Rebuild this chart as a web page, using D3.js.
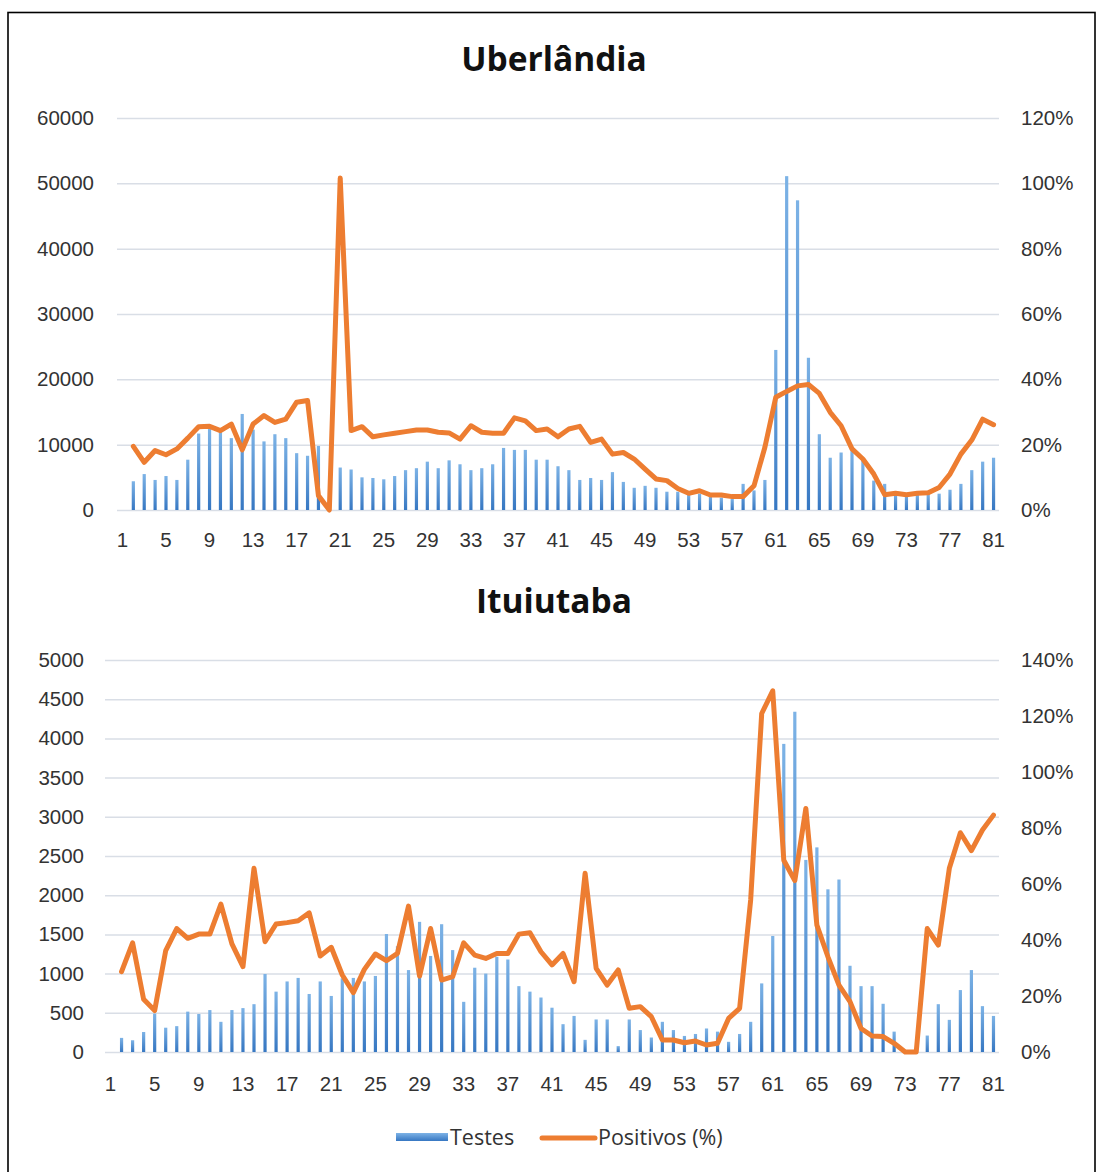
<!DOCTYPE html>
<html>
<head>
<meta charset="utf-8">
<script src="https://cdn.jsdelivr.net/npm/d3@7"></script>
<style>
  body { margin: 0; background: #fff; }
  svg { display: block; font-family: "Open Sans", "Liberation Sans", sans-serif; }
  .tick text { fill: #333; font-size: 20.5px; }
</style>
</head>
<body>
<svg id="chart" width="1098" height="1172"></svg>
<script>
// categories 1..81 (first one has no data)
var categories = d3.range(1, 82);
var xTickLabels = d3.range(1, 82, 4);

// Uberlândia
var uberTestes = [null, 4400, 5500, 4600, 5200, 4600, 7700, 11700, 12400, 11900,
  11000, 14700, 12300, 10500, 11600, 11000, 8700, 8300, 9800, 300,
  6500, 6200, 5000, 4900, 4700, 5200, 6100, 6400, 7400, 6400,
  7600, 7000, 6100, 6400, 7000, 9500, 9200, 9200, 7700, 7700,
  6700, 6100, 4600, 4900, 4600, 5800, 4300, 3400, 3700, 3400,
  2800, 2800, 2500, 2500, 2200, 1900, 1700, 4000, 3000, 4600,
  24500, 51100, 47400, 23300, 11600, 8000, 8800, 9100, 7600, 4500,
  4000, 2600, 2500, 2500, 2500, 2500, 3100, 4000, 6100, 7400, 8000];
var uberPositivos = [null, 19.5, 14.6, 18.2, 16.9, 18.7, 22, 25.5, 25.6, 24.3,
  26.3, 18.4, 26.3, 28.9, 26.8, 27.8, 33, 33.5, 4.4, 0,
  101.6, 24.3, 25.5, 22.4, 23, 23.5, 24, 24.5, 24.5, 23.8,
  23.6, 21.7, 25.8, 23.8, 23.5, 23.5, 28.2, 27.3, 24.3, 24.8,
  22.4, 24.8, 25.6, 20.7, 21.7, 17.1, 17.6, 15.6, 12.5, 9.5,
  9, 6.6, 5.1, 5.9, 4.6, 4.6, 4.1, 4.1, 7.4, 19.2,
  34.5, 36.3, 38, 38.4, 35.7, 29.9, 25.8, 18.7, 15.6, 11,
  4.7, 5.1, 4.7, 5.1, 5.3, 6.9, 11, 17.1, 21.4, 27.8, 26.1];
var uberLeftTicks = d3.range(0, 60001, 10000);
var uberRightTicks = d3.range(0, 121, 20);

// Ituiutaba
var ituiTestes = [null, 180, 150, 255, 490, 310, 330, 515, 485, 535,
  385, 535, 560, 610, 995, 770, 900, 945, 740, 900,
  715, 940, 945, 900, 970, 1505, 1350, 1045, 1660, 1225,
  1630, 1300, 640, 1075, 1000, 1215, 1180, 840, 770, 695,
  565, 355, 460, 155, 415, 415, 75, 415, 280, 185,
  385, 280, 205, 230, 300, 260, 130, 230, 385, 875,
  1480, 3930, 4340, 2450, 2610, 2075, 2200, 1100, 840, 840,
  615, 260, 0, 0, 210, 610, 410, 790, 1045, 585, 460];
var ituiPositivos = [null, 28.7, 39, 18.8, 14.8, 36.2, 44.1, 40.6, 42.1, 42.1,
  52.8, 38.6, 30.5, 65.6, 39.4, 45.7, 46.2, 46.9, 49.7, 34.3,
  37.4, 27.5, 21.2, 29.5, 35, 32.6, 35.2, 52.1, 27.1, 44.1,
  25.7, 26.9, 39, 34.6, 33.4, 35.2, 35.2, 42.1, 42.6, 35.8,
  31.1, 35.2, 25.1, 63.8, 29.9, 23.9, 29.3, 15.6, 16.2, 12.6,
  4.3, 4.3, 3.3, 3.9, 2.5, 3.1, 12, 15.6, 54.3, 120.9,
  129, 68.5, 61.2, 87, 45.3, 34, 23.9, 18, 8.4, 5.7,
  5.5, 3.1, 0, 0, 44.1, 38.2, 65.6, 78.3, 71.9, 79.3, 84.6];
var ituiLeftTicks = d3.range(0, 5001, 500);
var ituiRightTicks = d3.range(0, 141, 20);

var lineColor = "#ED7D31", gridColor = "#d9dee6";

var svg = d3.select("#chart");

// Excel-like bar gradient
var grad = svg.append("defs").append("linearGradient").attr("id", "barGrad")
  .attr("x1", 0).attr("y1", 0).attr("x2", 0).attr("y2", 1);
grad.append("stop").attr("offset", "0%").attr("stop-color", "#7db3e6");
grad.append("stop").attr("offset", "100%").attr("stop-color", "#3677c2");

// frame
svg.append("rect").attr("x", 8).attr("y", 12.5).attr("width", 1087).attr("height", 1200)
  .attr("fill", "none").attr("stroke", "#000").attr("stroke-width", 1.6);

var drawChart = function(opts) {
  var g = svg.append("g");
  var x = d3.scaleBand().domain(categories).range([opts.left, opts.right]).padding(0);
  var y = d3.scaleLinear().domain([0, opts.leftMax]).range([opts.bottom, opts.top]);
  var y2 = d3.scaleLinear().domain([0, opts.rightMax]).range([opts.bottom, opts.top]);
  var cx = function(c) { return x(c) + x.bandwidth() / 2; };

  // title
  g.append("text").attr("x", 554).attr("y", opts.top - 47).attr("text-anchor", "middle")
    .attr("font-size", 33.5).attr("font-weight", "bold").attr("fill", "#111").text(opts.title);

  // gridlines
  g.append("g").attr("transform", "translate(" + opts.left + ",0)")
    .call(d3.axisLeft(y).tickValues(opts.leftTicks).tickSize(-(opts.right - opts.left)).tickFormat(""))
    .call(function(s) { s.select(".domain").remove(); })
    .selectAll("line").attr("stroke", gridColor).attr("stroke-width", 1.5);

  // bars
  var bars = categories.map(function(c, i) { return { c: c, v: opts.testes[i] }; })
    .filter(function(d) { return d.v != null && d.v > 0; });
  g.append("g").selectAll("rect").data(bars).enter().append("rect")
    .attr("x", function(d) { return cx(d.c) - 1.6; })
    .attr("width", 3.2)
    .attr("y", function(d) { return y(d.v); })
    .attr("height", function(d) { return opts.bottom - y(d.v); })
    .attr("fill", "url(#barGrad)");

  // line
  var pts = categories.map(function(c, i) { return { c: c, v: opts.positivos[i] }; })
    .filter(function(d) { return d.v != null; });
  var line = d3.line().x(function(d) { return cx(d.c); }).y(function(d) { return y2(d.v); });
  g.append("path").attr("d", line(pts)).attr("fill", "none").attr("stroke", lineColor)
    .attr("stroke-width", 5).attr("stroke-linejoin", "round").attr("stroke-linecap", "round");

  // axes
  g.append("g").attr("transform", "translate(" + opts.leftLabelX + ",0)")
    .call(d3.axisLeft(y).tickValues(opts.leftTicks).tickSize(0).tickPadding(0).tickFormat(d3.format("d")))
    .call(function(s) { s.select(".domain").remove(); });
  g.append("g").attr("transform", "translate(1021,0)")
    .call(d3.axisRight(y2).tickValues(opts.rightTicks).tickSize(0).tickPadding(0).tickFormat(function(d) { return d + "%"; }))
    .call(function(s) { s.select(".domain").remove(); });
  g.append("g").attr("transform", "translate(0," + (opts.bottom + opts.xLabelGap) + ")")
    .call(d3.axisBottom(x).tickValues(xTickLabels).tickSize(0).tickPadding(0))
    .call(function(s) { s.select(".domain").remove(); });
};

drawChart({ title: "Uberlândia", testes: uberTestes, positivos: uberPositivos,
  left: 117, right: 999, top: 118, bottom: 510, leftMax: 60000, rightMax: 120,
  leftTicks: uberLeftTicks, rightTicks: uberRightTicks, leftLabelX: 94, xLabelGap: 22 });

drawChart({ title: "Ituiutaba", testes: ituiTestes, positivos: ituiPositivos,
  left: 105, right: 999, top: 660, bottom: 1052, leftMax: 5000, rightMax: 140,
  leftTicks: ituiLeftTicks, rightTicks: ituiRightTicks, leftLabelX: 84, xLabelGap: 24 });

// legend
var legend = svg.append("g").attr("font-size", 21.5).attr("fill", "#333");
legend.append("rect").attr("x", 396).attr("y", 1133).attr("width", 52).attr("height", 8).attr("fill", "url(#barGrad)");
legend.append("text").attr("x", 450).attr("y", 1145).text("Testes");
legend.append("line").attr("x1", 542).attr("x2", 595).attr("y1", 1138).attr("y2", 1138)
  .attr("stroke", lineColor).attr("stroke-width", 5).attr("stroke-linecap", "round");
legend.append("text").attr("x", 598).attr("y", 1145).text("Positivos (%)");
</script>
</body>
</html>
